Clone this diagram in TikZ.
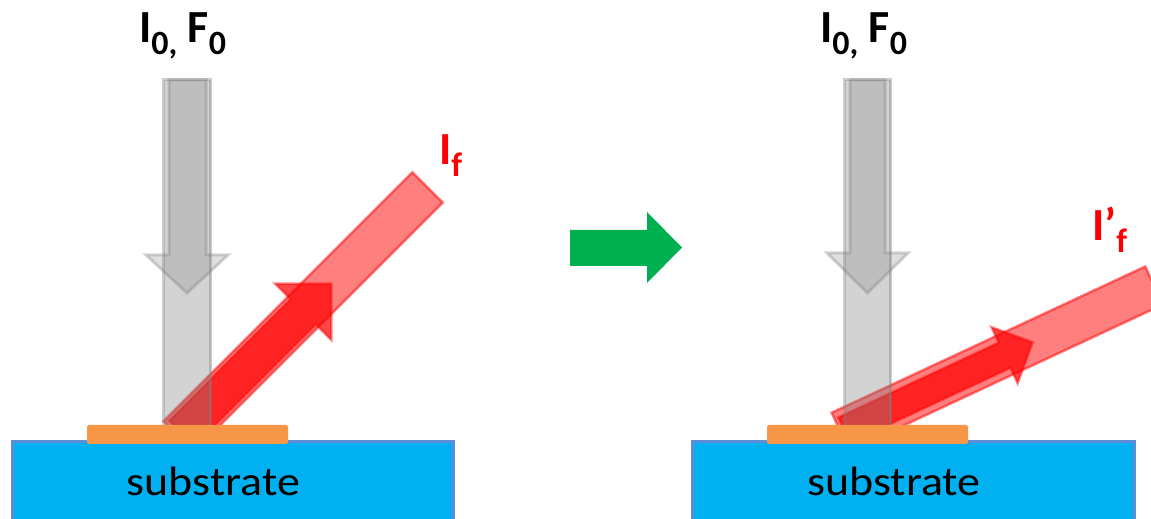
\documentclass[tikz,border=0pt]{standalone}
\usepackage{fontspec}
\setmainfont{Carlito}
\usetikzlibrary{calc}
\definecolor{subfill}{HTML}{00B0F0}
\definecolor{subdraw}{HTML}{5B8ED6}
\definecolor{filmcol}{HTML}{F79646}
\definecolor{grncol}{HTML}{00B050}
\definecolor{beamgray}{HTML}{808080}
\newcommand{\mysub}[1]{\raisebox{-12pt}{\fontsize{34}{34}\selectfont #1}}
\tikzset{
  substratebox/.style={draw=subdraw, line width=3pt, fill=subfill},
  filmbox/.style={fill=filmcol, rounded corners=2pt},
  graybeam/.style={fill=beamgray, fill opacity=0.35, draw=beamgray, draw opacity=0.4, line width=3pt},
  grayarrow/.style={fill=beamgray, fill opacity=0.25, draw=beamgray, draw opacity=0.35, line width=3pt},
  redbeam/.style={fill=red, fill opacity=0.5, draw=red, draw opacity=0.5, line width=2.5pt},
  redarrow/.style={fill=red, fill opacity=0.72, draw=red, draw opacity=0.45, line width=2.5pt},
  greenarrow/.style={fill=grncol},
  lbl/.style={inner sep=0pt, font=\fontsize{46}{50}\selectfont\bfseries},
  sublbl/.style={inner sep=0pt, font=\fontsize{41}{44}\selectfont},
}
\begin{document}
\begin{tikzpicture}[x=1pt,y=1pt]
\useasboundingbox (0,0) rectangle (1151,519);
\clip (0,0) rectangle (1151,519);

% ---------- left panel ----------
\begin{scope}
  \clip (0,88) rectangle (1151,519);
  \begin{scope}[shift={(190,94)}, rotate=45]
    \path[redbeam] (-16,-21.5) rectangle (336,21.5);
    \path[redarrow] (-12,-18) -- (160,-18) -- (160,-40) -- (200,0) -- (160,40) -- (160,18) -- (-12,18) -- cycle;
  \end{scope}
\end{scope}

\path[graybeam] (163.5,88) rectangle (210.5,439);
\path[grayarrow] (169,439) -- (206,439) -- (206,264) -- (228,264) -- (187,226) -- (146,264) -- (169,264) -- cycle;

\path[substratebox] (12,-10) rectangle (453,77);
\node[sublbl, anchor=base] (subL) at (213.5,23) {\scalebox{1.12}[1]{substrate}};
\path[filmbox] (87,75) rectangle (288,94);

\node[lbl, anchor=base west] (inL) at (139,476) {I\mysub{0,} F\mysub{0}};
\node[lbl, anchor=base west, text=red] (ifL) at (439,354) {I\mysub{f}};

% ---------- green arrow ----------
\path[greenarrow] (570,253) -- (647,253) -- (647,236) -- (682,271.5) -- (647,307) -- (647,289) -- (570,289) -- cycle;

% ---------- right panel ----------
\begin{scope}
  \clip (0,88) rectangle (1151,519);
  \begin{scope}[shift={(855,94)}, rotate=25]
    \path[redbeam] (-16,-21) rectangle (330,21);
    \path[redarrow] (-12,-14) -- (165,-14) -- (165,-31) -- (196,0) -- (165,31) -- (165,14) -- (-12,14) -- cycle;
  \end{scope}
\end{scope}

\path[graybeam] (844.5,88) rectangle (890.5,439);
\path[grayarrow] (850,439) -- (885,439) -- (885,266) -- (908,266) -- (867.5,226) -- (827,266) -- (850,266) -- cycle;

\path[substratebox] (692,-10) rectangle (1134,77);
\node[sublbl, anchor=base] (subR) at (894,23) {\scalebox{1.12}[1]{substrate}};
\path[filmbox] (767,75) rectangle (968,94);

\node[lbl, anchor=base west] (inR) at (820,476) {I\mysub{0,} F\mysub{0}};
\node[lbl, anchor=base west, text=red] (ifR) at (1092,278) {I’\mysub{f}};
\end{tikzpicture}
\end{document}
